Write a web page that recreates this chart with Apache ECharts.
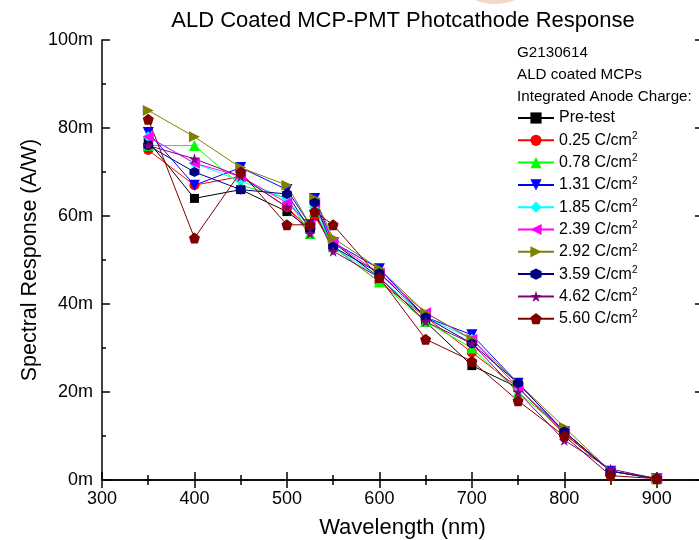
<!DOCTYPE html>
<html>
<head>
<meta charset="utf-8">
<script src="https://cdn.jsdelivr.net/npm/echarts@6/dist/echarts.min.js"></script>
<style>
  html, body { margin: 0; padding: 0; background: #fff; }
  #chart-container { width: 699px; height: 540px; }
</style>
</head>
<body>
<div id="chart-container"></div>
<script>
// wavelengths (nm)
const wavelengths = [350, 400, 450, 500, 525, 530, 550, 600, 650, 700, 750, 800, 850, 900];

// spectral response, mA/W
const preTest = [77, 64, 66, 61, 57, 60, 54, 46, 36, 26, 21, 10.5, 2, 0.3];
const c025 = [75, 67, 69, 62, 57, 60, 53, 45, 37, 29, 21, 10.5, 2, 0.3];
const c078 = [76, 76, 67, 64, 56, 61, 53, 45, 36, 30, 20, 11, 2, 0.3];
const c131 = [79, 67, 71, 66, 58, 64, 54, 48, 37, 33, 22, 11, 2, 0.3];
const c185 = [78, 72, 68, 64, 57, 62, 53, 46, 37, 32, 21, 11, 2, 0.3];
const c239 = [78, 72, 69, 63, 58, 63, 54, 47, 38, 32, 21, 11, 2, 0.3];
const c292 = [84, 78, 71, 67, 58, 64, 55, 48, 38, 32, 22, 12, 2, 0.4];
const c359 = [76, 70, 66, 65, 57, 63, 53, 47, 37, 31, 22, 11, 2, 0.3];
const c462 = [76, 73, 69, 62, 56, 61, 52, 46, 36, 31, 20, 9, 2.5, 0.3];
const c560 = [82, 55, 70, 58, 58, 61, 58, 46, 32, 27, 18, 10, 1, 0.3];

const seriesNames = ['Pre-test', '0.25 C/cm²', '0.78 C/cm²', '1.31 C/cm²', '1.85 C/cm²',
  '2.39 C/cm²', '2.92 C/cm²', '3.59 C/cm²', '4.62 C/cm²', '5.60 C/cm²'];
const seriesData = [preTest, c025, c078, c131, c185, c239, c292, c359, c462, c560];
const colors = ['#000000', '#ff0000', '#00ff00', '#0000ff', '#00ffff',
  '#ff00ff', '#808000', '#000080', '#800080', '#800000'];
const symbols = [
  'rect',
  'circle',
  'triangle',
  'path://M0,0L10,0L5,9Z',
  'diamond',
  'path://M9,0L9,10L0,5Z',
  'path://M0,0L0,10L9,5Z',
  'path://M5,0L9.33,2.5L9.33,7.5L5,10L0.67,7.5L0.67,2.5Z',
  'path://M5,0L6.18,3.6L10,3.6L6.9,5.9L8.1,9.5L5,7.3L1.9,9.5L3.1,5.9L0,3.6L3.82,3.6Z',
  'path://M5,0L10,3.8L8.1,10L1.9,10L0,3.8Z'
];
const symbolSizes = [9, 10, 11, 11, 11, 11, 11, 10, 11, 11];

const headerLines = ['G2130614', 'ALD coated MCPs', 'Integrated Anode Charge:'];

const FONT = 'Liberation Sans, Arial, sans-serif';

const myChart = echarts.init(document.getElementById('chart-container'));

const series = seriesNames.map((name, i) => ({
  name: name,
  type: 'line',
  data: wavelengths.map((w, j) => [w, seriesData[i][j]]),
  symbol: symbols[i],
  symbolSize: symbolSizes[i],
  showAllSymbol: true,
  lineStyle: { color: colors[i], width: 1 },
  itemStyle: { color: colors[i] },
  emphasis: { disabled: true }
}));

const tickStyle = { color: '#000', width: 1.5 };

const option = {
  animation: false,
  grid: { left: 102, top: 40, width: 601, height: 440, outerBoundsMode: 'none', containLabel: false },
  legend: {
    orient: 'vertical',
    left: 517,
    top: 110,
    padding: 0,
    itemWidth: 36,
    itemHeight: 14,
    itemGap: 5.3,
    itemStyle: { borderWidth: 0 },
    textStyle: {
      fontFamily: FONT, fontSize: 16, color: '#000',
      rich: {
        t: { fontFamily: FONT, fontSize: 16, color: '#000', lineHeight: 18 },
        s: { fontFamily: FONT, fontSize: 10, color: '#000', lineHeight: 10, verticalAlign: 'top' }
      }
    },
    formatter: name => name.indexOf('²') < 0 ? '{t|' + name + '}' : '{t|' + name.replace('²', '') + '}{s|2}',
    data: seriesNames
  },
  xAxis: [{
    type: 'value', min: 300, max: 950, interval: 100,
    name: 'Wavelength (nm)', nameLocation: 'middle', nameGap: 37, nameMoveOverlap: false,
    nameTextStyle: { fontFamily: FONT, fontSize: 22, color: '#000' },
    axisLine: { lineStyle: { color: '#000', width: 1.5 } },
    axisTick: { inside: true, length: 8, lineStyle: tickStyle },
    minorTick: { show: true, splitNumber: 2, length: 5, lineStyle: tickStyle },
    axisLabel: {
      fontFamily: FONT, fontSize: 18, color: '#000', margin: 10,
      formatter: v => (v % 100 === 0 && v <= 900) ? String(v) : ''
    },
    splitLine: { show: false }
  }, {
    type: 'value', min: 300, max: 950, interval: 100, position: 'top',
    axisLine: { lineStyle: { color: '#000', width: 1.5 } },
    axisTick: { inside: true, length: 8, lineStyle: tickStyle },
    minorTick: { show: true, splitNumber: 2, length: 5, lineStyle: tickStyle },
    axisLabel: { show: false },
    splitLine: { show: false }
  }],
  yAxis: [{
    type: 'value', min: 0, max: 100, interval: 20,
    name: 'Spectral Response (A/W)', nameLocation: 'middle', nameGap: 61, nameMoveOverlap: false,
    nameTextStyle: { fontFamily: FONT, fontSize: 21.5, color: '#000' },
    axisLine: { show: true, lineStyle: { color: '#000', width: 1.5 } },
    axisTick: { show: true, inside: true, length: 8, lineStyle: tickStyle },
    minorTick: { show: true, splitNumber: 2, length: 4, lineStyle: tickStyle },
    axisLabel: { fontFamily: FONT, fontSize: 18, color: '#000', margin: 9, formatter: v => v + 'm' },
    splitLine: { show: false }
  }, {
    type: 'value', min: 0, max: 100, interval: 20, position: 'right',
    axisLine: { show: true, lineStyle: { color: '#000', width: 1.5 } },
    axisTick: { show: true, inside: true, length: 8, lineStyle: tickStyle },
    minorTick: { show: true, splitNumber: 2, length: 4, lineStyle: tickStyle },
    axisLabel: { show: false },
    splitLine: { show: false }
  }],
  graphic: [
    {
      type: 'ellipse', shape: { cx: 495, cy: -10, rx: 28, ry: 14 },
      style: { fill: 'rgba(240,150,120,0.4)' }, silent: true, z: -1
    },
    {
      type: 'text', x: 403, y: 21,
      style: { text: 'ALD Coated MCP-PMT Photcathode Response', fontFamily: FONT, fontSize: 22,
        fill: '#000', textAlign: 'center', textVerticalAlign: 'middle' }
    }
  ].concat(headerLines.map((t, i) => ({
    type: 'text', x: 517, y: 53 + i * 22,
    style: { text: t, fontFamily: FONT, fontSize: 15.2, fill: '#000', textVerticalAlign: 'middle' }
  }))),
  series: series
};

myChart.setOption(option);
</script>
</body>
</html>
